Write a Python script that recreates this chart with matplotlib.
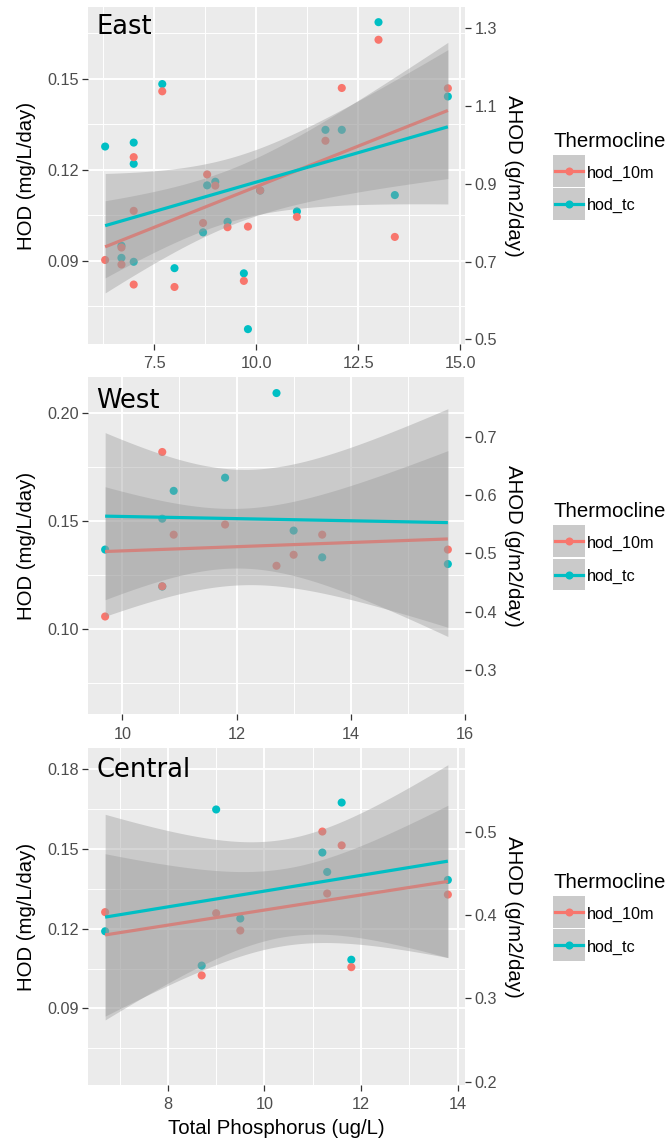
import math
import numpy as np
import matplotlib
matplotlib.use("Agg")
import matplotlib.pyplot as plt
from matplotlib.ticker import MultipleLocator, FormatStrFormatter
from matplotlib.patches import Rectangle
from matplotlib.lines import Line2D

plt.rcParams['font.family'] = ['Liberation Sans', 'DejaVu Sans']

# ---------------- data ----------------
regions = ["East", "West", "Central"]
series_names = ["hod_10m", "hod_tc"]
series_colors = ["#F8766D", "#00BFC4"]
legend_title = "Thermocline"

east_tp = [6.3, 6.7, 6.7, 7.0, 7.0, 7.0, 7.7, 8.0, 8.7, 8.8, 9.0, 9.3, 9.7, 9.8,
           10.1, 11.0, 11.7, 12.1, 13.0, 13.4, 14.7]
east_hod_10m = [0.0903, 0.0944, 0.0888, 0.1242, 0.1065, 0.0822, 0.1459, 0.0814, 0.1025,
                0.1185, 0.1148, 0.1011, 0.0834, 0.1013, 0.1132, 0.1045, 0.1296, 0.1470,
                0.1629, 0.0979, 0.1469]
east_hod_tc = [0.1277, 0.0950, 0.0910, 0.1290, 0.1220, 0.0897, 0.1483, 0.0876, 0.0994,
               0.1149, 0.1161, 0.1029, 0.0859, 0.0675, 0.1132, 0.1063, 0.1332, 0.1332,
               0.1687, 0.1117, 0.1442]

west_tp = [9.7, 10.7, 10.7, 10.9, 11.8, 12.7, 13.0, 13.5, 15.7]
west_hod_10m = [0.1059, 0.1821, 0.1199, 0.1438, 0.1485, 0.1294, 0.1345, 0.1438, 0.1369]
west_hod_tc = [0.1369, 0.1512, 0.1198, 0.1641, 0.1702, 0.2094, 0.1457, 0.1333, 0.1302]

central_tp = [6.7, 8.7, 9.0, 9.5, 11.2, 11.3, 11.6, 11.8, 13.8]
central_hod_10m = [0.1262, 0.1024, 0.1258, 0.1193, 0.1565, 0.1332, 0.1513, 0.1055, 0.1328]
central_hod_tc = [0.1190, 0.1061, 0.1648, 0.1238, 0.1486, 0.1413, 0.1674, 0.1083, 0.1383]

# AHOD / HOD conversion factor for the secondary axis of each region
ahod_factor = [7.8, 3.7, 3.2]

# axis limits / ticks
x_limits = [(5.88, 15.12), (9.4, 16.0), (6.345, 14.155)]
y_limits = [(0.0626, 0.1737), (0.0606, 0.2167), (0.0612, 0.1878)]
x_ticks = [[7.5, 10.0, 12.5, 15.0], [10, 12, 14, 16], [8, 10, 12, 14]]
x_fmt = ["%.1f", "%d", "%d"]
y_ticks = [[0.09, 0.12, 0.15], [0.10, 0.15, 0.20], [0.09, 0.12, 0.15, 0.18]]
y2_ticks = [[0.5, 0.7, 0.9, 1.1, 1.3], [0.3, 0.4, 0.5, 0.6, 0.7], [0.2, 0.3, 0.4, 0.5]]

data = {
    "East": (east_tp, east_hod_10m, east_hod_tc),
    "West": (west_tp, west_hod_10m, west_hod_tc),
    "Central": (central_tp, central_hod_10m, central_hod_tc),
}

# ---------------- helpers ----------------
def t_quantile_975(df):
    c = math.gamma((df + 1) / 2) / (math.sqrt(df * math.pi) * math.gamma(df / 2))

    def cdf(x):
        t = np.linspace(0, x, 4001)
        f = c * (1 + t ** 2 / df) ** (-(df + 1) / 2)
        return 0.5 + np.trapezoid(f, t)

    lo, hi = 0.0, 15.0
    for _ in range(60):
        mid = (lo + hi) / 2
        if cdf(mid) < 0.975:
            lo = mid
        else:
            hi = mid
    return (lo + hi) / 2


def lm_smooth(x, y, n=80):
    x = np.asarray(x, float)
    y = np.asarray(y, float)
    ok = ~np.isnan(y)
    x, y = x[ok], y[ok]
    b, a = np.polyfit(x, y, 1)
    xs = np.linspace(x.min(), x.max(), n)
    yhat = a + b * xs
    resid = y - (a + b * x)
    dfree = len(x) - 2
    s = math.sqrt(np.sum(resid ** 2) / dfree)
    sxx = np.sum((x - x.mean()) ** 2)
    se = s * np.sqrt(1 / len(x) + (xs - x.mean()) ** 2 / sxx)
    tq = t_quantile_975(dfree)
    return xs, yhat, yhat - tq * se, yhat + tq * se


W, H = 670, 1142
fig = plt.figure(figsize=(W / 100, H / 100), dpi=100)


def fx(px):
    return px / W


def fy(py):
    return 1 - py / H


panel_px = [(88, 465, 7, 344), (88, 465, 377.3, 714.3), (88, 465, 748.3, 1085)]
label_y = [0.919, 0.910, 0.916]
tick_col = "#4D4D4D"

for i, reg in enumerate(regions):
    l, r, t, b = panel_px[i]
    ax = fig.add_axes([fx(l), fy(b), (r - l) / W, (b - t) / H])
    ax.set_facecolor("#EBEBEB")
    for sp in ax.spines.values():
        sp.set_visible(False)
    tp, h10, htc = data[reg]

    # points: tc first, then 10m on top
    ax.scatter(tp, htc, s=34, color=series_colors[1], edgecolors="none", zorder=2)
    ax.scatter(tp, h10, s=34, color=series_colors[0], edgecolors="none", zorder=2.1)

    z = 3
    for vals, col in [(h10, series_colors[0]), (htc, series_colors[1])]:
        xs, yh, lo, hi = lm_smooth(tp, vals)
        ax.fill_between(xs, lo, hi, color="#999999", alpha=0.4, lw=0, zorder=z)
        ax.plot(xs, yh, color=col, lw=2.3, zorder=z + 0.5, solid_capstyle="butt")
        z += 1

    ax.set_xlim(*x_limits[i])
    ax.set_ylim(*y_limits[i])
    ax.set_xticks(x_ticks[i])
    ax.xaxis.set_major_formatter(FormatStrFormatter(x_fmt[i]))
    xstep = x_ticks[i][1] - x_ticks[i][0]
    ax.xaxis.set_minor_locator(MultipleLocator(xstep / 2))
    ax.set_yticks(y_ticks[i])
    ax.yaxis.set_major_formatter(FormatStrFormatter("%.2f"))
    ystep = y_ticks[i][1] - y_ticks[i][0]
    ax.yaxis.set_minor_locator(MultipleLocator(ystep / 2))
    ax.set_axisbelow(True)
    ax.grid(which="major", color="white", lw=1.4)
    ax.grid(which="minor", color="white", lw=0.7)
    ax.tick_params(which="major", length=4, width=0.9, color="#333333",
                   labelsize=11.7, labelcolor=tick_col, pad=2.8)
    ax.tick_params(axis="x", which="major", pad=4.8)
    ax.tick_params(which="minor", length=0)

    k = ahod_factor[i]
    sec = ax.secondary_yaxis("right", functions=(lambda y, k=k: y * k,
                                                  lambda y, k=k: y / k))
    for sp in sec.spines.values():
        sp.set_visible(False)
    sec.set_yticks(y2_ticks[i])
    sec.yaxis.set_major_formatter(FormatStrFormatter("%.1f"))
    sec.tick_params(length=4, width=0.9, color="#333333", labelsize=11.7,
                    labelcolor=tick_col, pad=2.8)

    ax.text(0.022, label_y[i], reg, transform=ax.transAxes, ha="left",
            va="baseline", fontsize=18.5, family="DejaVu Sans", color="black",
            zorder=10)

    cy = (t + b) / 2
    fig.text(fx(27), fy(cy), "HOD (mg/L/day)", rotation=90, ha="center",
             va="center", fontsize=14.7)
    fig.text(fx(514), fy(cy), "AHOD (g/m2/day)", rotation=-90, ha="center",
             va="center", fontsize=14.7)

    # legend (drawn manually, ggplot style)
    dy = cy - 175.5
    fig.text(fx(553), fy(146.7 + dy), legend_title, ha="left", va="baseline",
             fontsize=14.7)
    key_tops = [155 + dy, 188.2 + dy]
    baselines = [177.7 + dy, 210.3 + dy]
    for j in range(2):
        kt = key_tops[j]
        for fc, al in [("#EBEBEB", 1.0), ("#999999", 0.4)]:
            fig.add_artist(Rectangle((fx(552.7), fy(kt + 31.6)), 32.3 / W, 31.6 / H,
                                     transform=fig.transFigure, facecolor=fc,
                                     alpha=al, edgecolor="none"))
        kc = kt + 16
        fig.add_artist(Line2D([fx(555), fx(582.5)], [fy(kc), fy(kc)],
                              transform=fig.transFigure, color=series_colors[j],
                              lw=2.3))
        fig.add_artist(Line2D([fx(568.8)], [fy(kc)], transform=fig.transFigure,
                              color=series_colors[j], marker="o", ms=5.8,
                              mec="none", lw=0))
        fig.text(fx(587), fy(baselines[j]), series_names[j], ha="left",
                 va="baseline", fontsize=11.7)

fig.text(fx(276.5), fy(1128), "Total Phosphorus (ug/L)", ha="center",
         va="center", fontsize=14.7)

fig.savefig("out.png", dpi=100, facecolor="white")
